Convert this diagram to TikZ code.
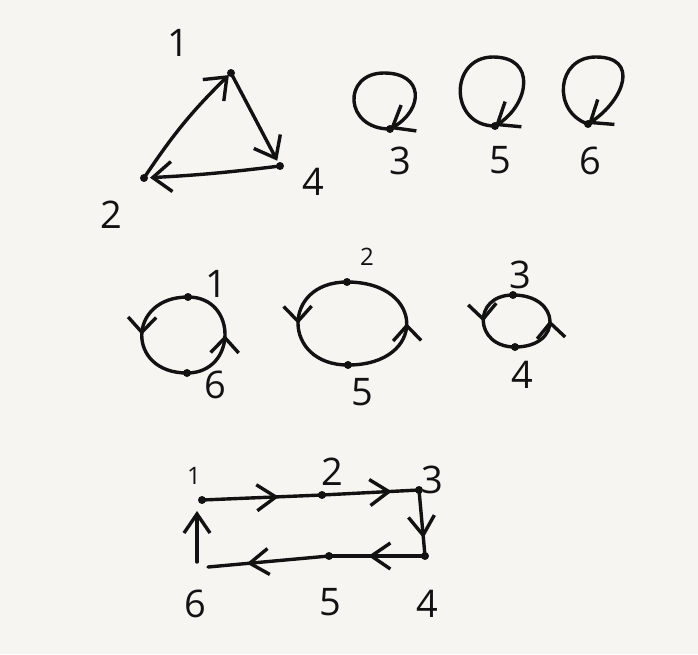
\documentclass[tikz,border=0pt]{standalone}
\usepackage{fontspec}
\setmainfont{Open Sans}
\usetikzlibrary{arrows.meta,decorations.markings}
\definecolor{paper}{RGB}{246,245,241}
\definecolor{ink}{RGB}{18,18,18}
\tikzset{
  hand/.tip={Straight Barb[length=19pt,width=30pt,line width=3.4pt]},
  handr/.tip={Straight Barb[length=19pt,width=26pt,line width=3.4pt]},
  handc/.tip={Straight Barb[length=15pt,width=28pt,line width=3.4pt]},
  edge/.style={draw=ink, line width=3.4pt, line cap=round, line join=round},
  midr/.style={postaction={decorate}, decoration={markings, mark=at position #1 with {\arrow[ink]{handr}}}},
  midc/.style={postaction={decorate}, decoration={markings, mark=at position #1 with {\arrow[ink]{handc}}}},
  dot/.style={circle, fill=ink, inner sep=0pt, minimum size=8pt},
  lab/.style={text=ink, inner sep=0pt, font=\fontsize{38}{40}\selectfont},
  slab/.style={text=ink, inner sep=0pt, font=\fontsize{24}{26}\selectfont},
}
\begin{document}
\begin{tikzpicture}[x=1pt,y=-1pt]
\fill[paper] (0,0) rectangle (698,654);
\useasboundingbox (0,0) rectangle (698,654);

% ---- triangle 1-2-4
\node[dot] (t1) at (231,73) {};
\node[dot] (t2) at (144,178) {};
\node[dot] (t4) at (280,166) {};
\node[lab] (lt1) at (178,43) {1};
\node[lab] (lt2) at (111,215) {2};
\node[lab] (lt4) at (313,182) {4};
\draw[edge,-hand,shorten >=3pt] (t2.center) to[bend left=6] (t1.center);
\draw[edge,-hand,shorten >=6pt] (t1.center) -- (t4.center);
\draw[edge,-hand,shorten >=6pt] (t4.center) to[bend left=2] (t2.center);

% ---- self loops 3, 5, 6
\node[dot] (l3) at (390,129) {};
\node[dot] (l5) at (495,126) {};
\node[dot] (l6) at (588,124) {};
\node[lab] (ll3) at (400,161) {3};
\node[lab] (ll5) at (500,160) {5};
\node[lab] (ll6) at (590,161) {6};
\draw[edge,-hand] (l3.center) .. controls +(-46,0) and +(-42,0) .. ++(-6,-56)
      .. controls +(40,0) and +(34,-20) .. (l3.center);
\draw[edge,-hand] (l5.center) .. controls +(-46,0) and +(-44,0) .. ++(-2,-69)
      .. controls +(44,0) and +(34,-22) .. (l5.center);
\draw[edge,-hand] (l6.center) .. controls +(-36,-12) and +(-40,0) .. ++(8,-67)
      .. controls +(44,0) and +(36,-24) .. (l6.center);

% ---- cycle 1-6
\node[dot] (a1) at (188,297) {};
\node[dot] (a6) at (187,373) {};
\node[lab] (la1) at (216,284) {1};
\node[lab] (la6) at (215,385) {6};
\draw[edge,midc=0.5] (a1.center) .. controls +(-61,0) and +(-61,0) .. (a6.center);
\draw[edge,midc=0.5] (a6.center) .. controls +(50,0) and +(50,0) .. (a1.center);

% ---- cycle 2-5
\node[dot] (b2) at (347,282) {};
\node[dot] (b5) at (348,365) {};
\node[slab] (lb2) at (367,257) {2};
\node[lab] (lb5) at (362,392) {5};
\draw[edge,midc=0.5] (b2.center) .. controls +(-66,0) and +(-66,0) .. (b5.center);
\draw[edge,midc=0.5] (b5.center) .. controls +(79,0) and +(79,0) .. (b2.center);

% ---- cycle 3-4
\node[dot] (c3) at (513,295) {};
\node[dot] (c4) at (515,347) {};
\node[lab] (lc3) at (520,275) {3};
\node[lab] (lc4) at (522,375) {4};
\draw[edge,midc=0.5] (c3.center) .. controls +(-41,0) and +(-41,0) .. (c4.center);
\draw[edge,midc=0.5] (c4.center) .. controls +(48,0) and +(48,0) .. (c3.center);

% ---- cycle 1-2-3-4-5-6
\node[dot] (r1) at (202,500) {};
\node[dot] (r2) at (322,495) {};
\node[dot] (r3) at (419,490) {};
\node[dot] (r4) at (425,556) {};
\node[dot] (r5) at (329,556) {};
\coordinate (r6) at (208,567);
\coordinate (r6a) at (197,562);
\coordinate (r1b) at (197,511);
\node[slab] (lr1) at (194,476) {1};
\node[lab] (lr2) at (332,472) {2};
\node[lab] (lr3) at (432,480) {3};
\node[lab] (lr4) at (427,604) {4};
\node[lab] (lr5) at (330,602) {5};
\node[lab] (lr6) at (195,604) {6};
\draw[edge,midr=0.64] (r1.center) -- (r2.center);
\draw[edge,midr=0.72] (r2.center) -- (r3.center);
\draw[edge,midr=0.73] (r3.center) -- (r4.center);
\draw[edge,midr=0.59] (r4.center) -- (r5.center);
\draw[edge,midr=0.68] (r5.center) -- (r6);
\draw[edge,-handr] (r6a) -- (r1b);
\end{tikzpicture}
\end{document}
